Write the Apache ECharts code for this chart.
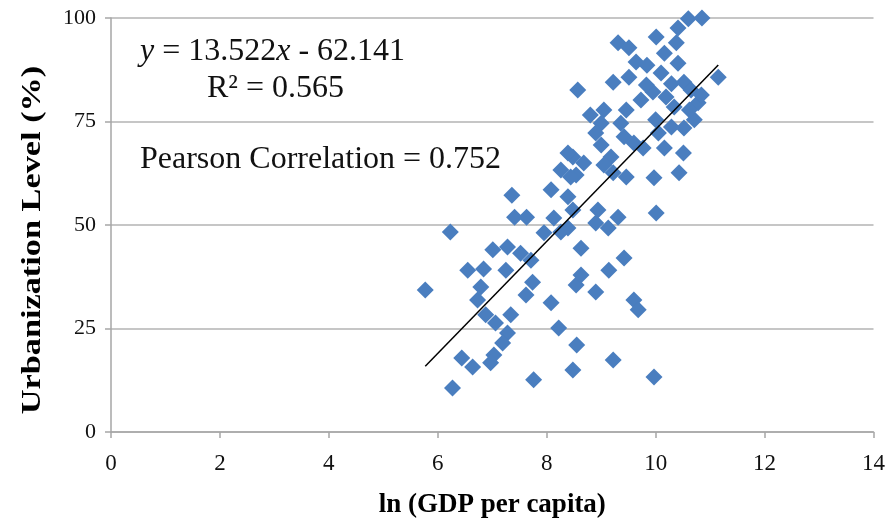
<!DOCTYPE html>
<html>
<head>
<meta charset="utf-8">
<script src="https://cdn.jsdelivr.net/npm/echarts@6/dist/echarts.min.js"></script>
<style>html,body{margin:0;padding:0;background:#fff;}#c{width:888px;height:525px;}</style>
</head>
<body>
<div id="c"></div>
<script>
// ln(GDP per capita)
const lnGdp = [
  5.77, 6.23, 6.27, 6.44, 6.64, 6.55, 6.84, 6.79, 6.73, 6.88,
  7.06, 7.34, 7.28, 7.19, 7.03, 6.97, 7.76, 7.25, 7.01, 7.28,
  7.52, 7.71, 7.74, 7.62, 8.08, 8.22, 8.55, 8.48, 9.22, 9.97,
  9.60, 9.68, 8.54, 8.63, 8.90, 9.14, 9.42, 8.63, 9.13, 8.90,
  9.31, 10.01, 7.36, 7.41, 7.63, 8.13, 8.39, 7.95, 8.26,
  10.60, 10.85, 10.41, 10.01, 10.38, 9.31, 9.51, 9.64, 10.16, 10.41,
  8.57, 9.22, 9.51, 10.10, 9.95, 10.29, 10.52, 11.15, 10.65, 10.19,
  10.78, 10.34, 10.71, 10.52, 10.29, 10.05, 10.16, 10.51, 9.05, 9.46,
  9.00, 9.36, 8.90, 9.42, 9.00, 9.60, 9.77, 8.68, 9.18, 9.05,
  8.54, 9.22, 9.46, 9.97, 10.43, 8.94, 8.48, 8.48, 8.39, 8.26,
  8.08, 8.44, 8.39, 9.83, 9.73, 10.00, 10.62, 10.84, 9.84, 8.80
];
// Urbanization level (%)
const urban = [
  34.3, 48.3, 10.6, 17.9, 15.7, 39.1, 39.4, 35.0, 31.9, 28.3,
  26.3, 28.3, 23.9, 21.5, 18.6, 16.7, 12.6, 39.1, 44.0, 44.7,
  43.2, 41.5, 36.2, 33.1, 31.2, 25.1, 21.0, 15.0, 17.4, 13.3,
  31.9, 29.5, 35.5, 37.9, 33.8, 39.1, 42.0, 44.4, 49.3, 50.5,
  51.9, 52.9, 57.2, 51.9, 51.9, 51.7, 49.3, 48.1, 48.3,
  99.8, 100.0, 97.6, 95.4, 94.0, 94.0, 92.8, 89.4, 91.5, 89.1,
  82.6, 84.5, 85.7, 86.7, 82.1, 84.1, 84.5, 85.7, 82.6, 80.9,
  79.5, 78.5, 75.4, 73.4, 73.7, 72.2, 68.6, 67.4, 77.8, 77.8,
  74.6, 74.6, 72.2, 71.3, 69.3, 69.8, 68.6, 65.0, 66.4, 64.5,
  62.1, 62.6, 61.6, 61.4, 62.6, 53.6, 66.4, 53.6, 67.4, 63.3,
  58.5, 61.6, 56.8, 83.8, 80.2, 75.4, 77.8, 81.4, 88.6, 76.6
];
const xTicks = [0, 2, 4, 6, 8, 10, 12, 14];
const yTicks = [0, 25, 50, 75, 100];
const slope = 13.522, intercept = -62.141;
const trendRange = [5.77, 11.15];
const r2Text = 'R² = 0.565';
const pearsonText = 'Pearson Correlation = 0.752';
const xTitle = 'ln (GDP per capita)';
const yTitle = 'Urbanization Level (%)';

const serif = '"Liberation Serif","Times New Roman",serif';
const points = lnGdp.map((x, i) => [x, urban[i]]);
const trend = trendRange.map(x => [x, slope * x + intercept]);

const chart = echarts.init(document.getElementById('c'), null, {renderer: 'canvas'});
chart.setOption({
  animation: false,
  backgroundColor: '#ffffff',
  grid: {left: 111, right: 13, top: 18, bottom: 93, containLabel: false},
  xAxis: {
    type: 'value', min: xTicks[0], max: xTicks[xTicks.length - 1], interval: 2,
    name: xTitle, nameLocation: 'middle', nameGap: 60,
    nameTextStyle: {fontFamily: serif, fontSize: 27, fontWeight: 'bold', color: '#000'},
    axisLine: {show: true, lineStyle: {color: '#a6a6a6', width: 1.5}},
    axisTick: {show: true, length: 6, lineStyle: {color: '#a6a6a6', width: 1.5}},
    axisLabel: {fontFamily: serif, fontSize: 23, color: '#111', margin: 20},
    splitLine: {show: false}
  },
  yAxis: {
    type: 'value', min: yTicks[0], max: yTicks[yTicks.length - 1], interval: 25,
    axisLine: {show: true, lineStyle: {color: '#a6a6a6', width: 1.5}},
    axisTick: {show: true, length: 6, lineStyle: {color: '#a6a6a6', width: 1.5}},
    axisLabel: {fontFamily: serif, fontSize: 22, color: '#111', margin: 15},
    splitLine: {show: true, lineStyle: {color: '#b3b3b3', width: 1.5}}
  },
  series: [
    {
      type: 'scatter', data: points, symbol: 'diamond', symbolSize: 17,
      itemStyle: {color: '#4a7ebf', opacity: 1}, z: 2
    },
    {
      type: 'line', data: trend, symbol: 'none', showSymbol: false,
      lineStyle: {color: '#000', width: 1.5}, z: 3, silent: true
    }
  ],
  graphic: [
    {type: 'text', x: 33, y: 240, rotation: Math.PI / 2, scaleX: 1.27, style: {
      text: yTitle, fontFamily: serif, fontSize: 27, fontWeight: 'bold', fill: '#000',
      align: 'center', verticalAlign: 'middle'
    }},
    {type: 'text', x: 140, y: 52, style: {
      text: '{i|y} = 13.522{i|x} - 62.141', fontFamily: serif, fontSize: 32, fill: '#111',
      verticalAlign: 'middle',
      rich: {i: {fontStyle: 'italic', fontFamily: serif, fontSize: 32, fill: '#111'}}
    }},
    {type: 'text', x: 207, y: 89, style: {text: r2Text, fontFamily: serif, fontSize: 32, fill: '#111', verticalAlign: 'middle'}},
    {type: 'text', x: 140, y: 160, style: {text: pearsonText, fontFamily: serif, fontSize: 32, fill: '#111', verticalAlign: 'middle'}}
  ]
});
</script>
</body>
</html>
